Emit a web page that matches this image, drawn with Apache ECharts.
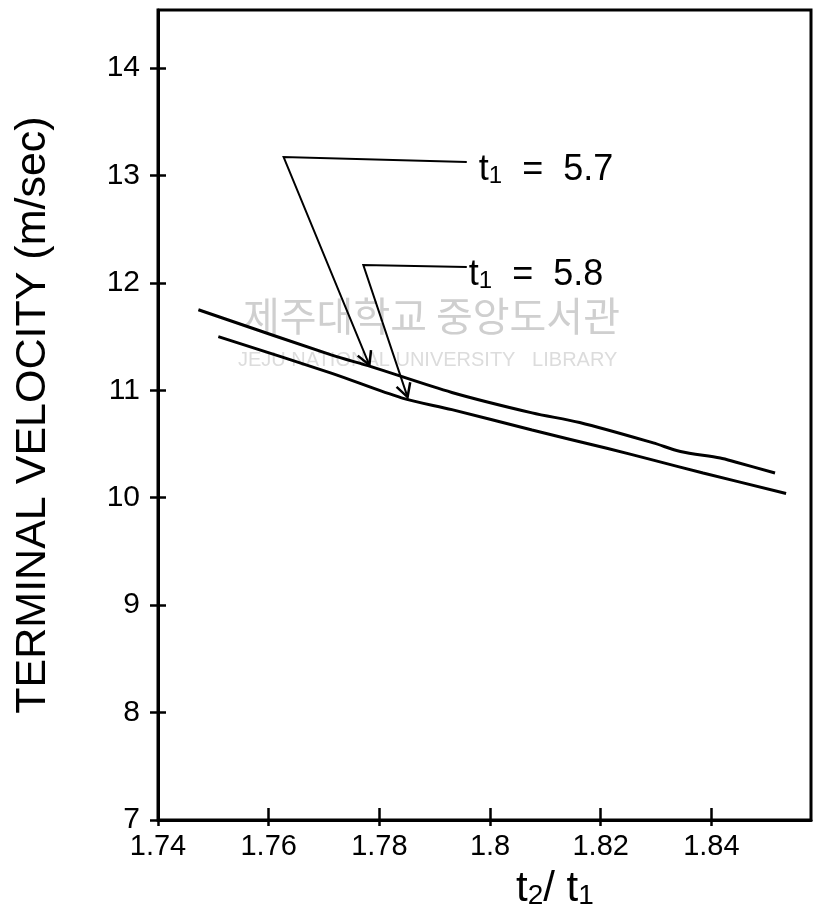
<!DOCTYPE html>
<html>
<head>
<meta charset="utf-8">
<script src="https://cdn.jsdelivr.net/npm/echarts@6/dist/echarts.min.js"></script>
<style>html,body{margin:0;padding:0;background:#fff}#chart{width:823px;height:912px}</style>
</head>
<body>
<div id="chart"></div>
<script>
// t1 = 5.7 curve
const ratio57 = [1.7473, 1.7713, 1.7785, 1.7931, 1.8076, 1.8162, 1.8295, 1.8344, 1.8416, 1.8445, 1.8515];
const vel57 = [11.75, 11.33, 11.22, 10.98, 10.79, 10.70, 10.51, 10.43, 10.37, 10.33, 10.23];
// t1 = 5.8 curve
const ratio58 = [1.7509, 1.7713, 1.784, 1.7931, 1.8076, 1.8211, 1.8295, 1.8385, 1.8535];
const vel58 = [11.50, 11.16, 10.93, 10.82, 10.63, 10.46, 10.35, 10.23, 10.04];

const xTicks = [1.74, 1.76, 1.78, 1.8, 1.82, 1.84];
const yTicks = [7, 8, 9, 10, 11, 12, 13, 14];

// leader lines: label end -> corner -> arrow tip (data coords)
const leaderT1 = ['5.7', '5.8'];
const leaderX = [[1.7958, 1.7627, 1.7782], [1.7958, 1.7771, 1.7851]];
const leaderY = [[13.125, 13.171, 11.235], [12.147, 12.166, 10.937]];

const sans = '"Liberation Sans", Arial, sans-serif';

let myChart = echarts.init(document.getElementById('chart'));

const tickStyle = { color: '#000', width: 2.5 };
const lineOf = (xs, ys) => xs.map((x, i) => [x, ys[i]]);

myChart.setOption({
    backgroundColor: '#fff',
    animation: false,
    grid: {
        left: 158, right: 12, top: 10, bottom: 92,
        show: true, borderColor: '#000', borderWidth: 3
    },
    xAxis: [
        {
            type: 'value', min: 1.74, max: 1.858, position: 'bottom',
            axisLine: { lineStyle: { color: '#000', width: 3 } },
            splitLine: { show: false },
            axisTick: { inside: true, length: 12, customValues: xTicks, lineStyle: tickStyle },
            axisLabel: {
                customValues: xTicks, color: '#000', fontSize: 29, fontFamily: sans, margin: 12,
                formatter: v => String(+(+v).toFixed(2))
            }
        },
        {
            type: 'value', min: 1.74, max: 1.858, position: 'bottom',
            axisLine: { show: false }, splitLine: { show: false },
            axisTick: { inside: false, length: 6, customValues: xTicks, lineStyle: tickStyle },
            axisLabel: { show: false }
        }
    ],
    yAxis: [
        {
            type: 'value', min: 7, max: 14.54, position: 'left',
            name: 'TERMINAL VELOCITY (m/sec)', nameLocation: 'middle', nameGap: 103,
            nameTextStyle: { color: '#000', fontSize: 43, fontFamily: sans },
            axisLine: { lineStyle: { color: '#000', width: 3 } },
            splitLine: { show: false },
            axisTick: { inside: true, length: 8, customValues: yTicks, lineStyle: tickStyle },
            axisLabel: { customValues: yTicks, color: '#000', fontSize: 30, fontFamily: sans, margin: 18 }
        },
        {
            type: 'value', min: 7, max: 14.54, position: 'left',
            axisLine: { show: false }, splitLine: { show: false },
            axisTick: { inside: false, length: 8, customValues: yTicks, lineStyle: tickStyle },
            axisLabel: { show: false }
        }
    ],
    graphic: [
        {
            type: 'text', left: 243, top: 296, z: -1, silent: true,
            style: { text: '제주대학교 중앙도서관', fontSize: 40, fontFamily: '"Noto Sans CJK KR"', fill: '#cfcfcf' }
        },
        {
            type: 'text', left: 238, top: 350, z: -1, silent: true,
            style: { text: 'JEJU NATIONAL UNIVERSITY   LIBRARY', fontSize: 20, fontFamily: sans, fill: '#dcdcdc' }
        },
        {
            type: 'text', left: 516, top: 868,
            style: {
                text: '{t|t}{s|2}{t|/ t}{s|1}',
                rich: {
                    t: { fontSize: 42, fontFamily: sans, fill: '#000', verticalAlign: 'bottom' },
                    s: { fontSize: 28, fontFamily: sans, fill: '#000', verticalAlign: 'bottom' }
                }
            }
        }
    ],
    series: [
        {
            name: 't1 = 5.7', type: 'line', xAxisIndex: 0, yAxisIndex: 0,
            data: lineOf(ratio57, vel57), smooth: 0.3, showSymbol: false,
            lineStyle: { color: '#000', width: 3 }
        },
        {
            name: 't1 = 5.8', type: 'line', xAxisIndex: 0, yAxisIndex: 0,
            data: lineOf(ratio58, vel58), smooth: 0.3, showSymbol: false,
            lineStyle: { color: '#000', width: 3 }
        },
        {
            type: 'custom', xAxisIndex: 0, yAxisIndex: 0,
            data: leaderX.map((xs, i) => [xs[2], leaderY[i][2]]),
            renderItem: (params, api) => {
                const i = params.dataIndex;
                const pts = leaderX[i].map((x, k) => api.coord([x, leaderY[i][k]]));
                const tip = pts[2], prev = pts[1];
                const ang = Math.atan2(tip[1] - prev[1], tip[0] - prev[0]);
                const L = 15, a = 0.5;
                const h1 = [tip[0] - L * Math.cos(ang - a), tip[1] - L * Math.sin(ang - a)];
                const h2 = [tip[0] - L * Math.cos(ang + a), tip[1] - L * Math.sin(ang + a)];
                return {
                    type: 'group',
                    children: [
                        { type: 'polyline', shape: { points: pts }, style: { stroke: '#000', lineWidth: 2, fill: null } },
                        { type: 'polyline', shape: { points: [h1, tip, h2] }, style: { stroke: '#000', lineWidth: 2.5, fill: null } },
                        {
                            type: 'text', x: pts[0][0] + (i === 0 ? 12 : 2), y: pts[0][1] + 8,
                            style: {
                                text: '{t|t}{s|1}{e|  =  ' + leaderT1[i] + '}',
                                verticalAlign: 'middle',
                                rich: {
                                    t: { fontSize: 36, fontFamily: sans, fill: '#000', verticalAlign: 'bottom' },
                                    s: { fontSize: 24, fontFamily: sans, fill: '#000', verticalAlign: 'bottom' },
                                    e: { fontSize: 36, fontFamily: sans, fill: '#000', verticalAlign: 'bottom' }
                                }
                            }
                        }
                    ]
                };
            }
        }
    ]
});
</script>
</body>
</html>
